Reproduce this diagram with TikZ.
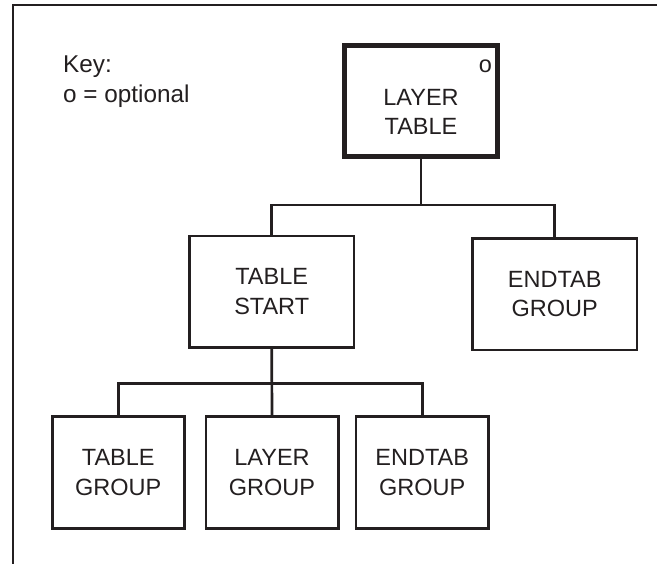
\documentclass[tikz,border=0pt]{standalone}
\usepackage{fontspec}
\setmainfont{Liberation Sans}
\definecolor{ink}{HTML}{231F20}
\begin{document}
\begin{tikzpicture}[x=1pt,y=-1pt,
  every node/.style={text=ink},
  txt/.style={font=\fontsize{23.5}{29.5}\selectfont, align=center},
  keytxt/.style={font=\fontsize{24.3}{30}\selectfont, align=left},
  box/.style={txt, draw=ink, line width=2.7pt, inner sep=0pt,
              minimum height=111.6pt},
  wide/.style={box, minimum width=164.4pt},
  narrow/.style={box, minimum width=132.3pt},
  root/.style={draw=ink, line width=5pt, minimum width=153pt,
               minimum height=111.5pt, inner sep=0pt},
  link/.style={draw=ink, line width=2.7pt}]
\useasboundingbox (0,0) rectangle (657,564);

% page frame (open at the right and bottom)
\draw[ink, line width=2.7pt] (13,564) -- (13,5) -- (657,5);

% key
\node[keytxt, anchor=north west, inner sep=0pt] (key) at (63,56)
  {Key:\\o = optional};

% top level
\node[root] (lt) at (421,100.8) {};
\node[txt, inner sep=0pt] (ltlabel) at (421,112) {LAYER\\TABLE};
\node[txt, anchor=base, inner sep=0pt] (opt) at (485.5,73) {o};

% second level
\node[wide] (ts) at (271.7,291.7) {TABLE\\START};
\node[wide] (eg1) at (554.7,294.2) {ENDTAB\\GROUP};

% third level
\node[narrow] (tg) at (118.3,472.5) {TABLE\\GROUP};
\node[narrow] (lg) at (272,472.5) {LAYER\\GROUP};
\node[narrow] (eg2) at (422.2,472.5) {ENDTAB\\GROUP};

% connectors
\coordinate (busA) at (0,205);
\coordinate (busB) at (0,383.3);
\draw[link] (lt.south) -- (lt.south |- busA);
\draw[link] (ts.north) -- (ts.north |- busA) -- (eg1.north |- busA) -- (eg1.north);
\draw[link] (ts.south) -- (lg.north);
\draw[link] (tg.north) -- (tg.north |- busB) -- (eg2.north |- busB) -- (eg2.north);
\end{tikzpicture}
\end{document}
